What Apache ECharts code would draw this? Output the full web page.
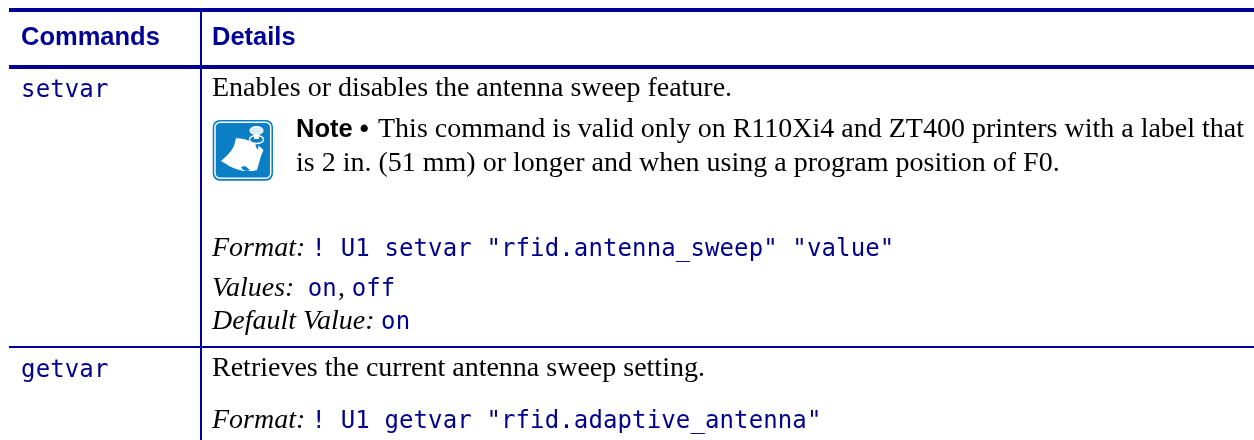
<!DOCTYPE html>
<html><head><meta charset="utf-8">
<style>html,body{margin:0;padding:0;background:#fff}#c{width:1254px;height:440px}</style>
<script src="https://cdn.jsdelivr.net/npm/echarts@6/dist/echarts.min.js"></script>
</head><body><div id="c"></div>
<script>
const headers = ["Commands", "Details"];
const commands = ["setvar", "getvar"];
const setvarIntro = "Enables or disables the antenna sweep feature.";
const noteLabel = "Note •";
const noteLine1 = "This command is valid only on R110Xi4 and ZT400 printers with a label that";
const noteLine2 = "is 2 in. (51 mm) or longer and when using a program position of F0.";
const formatLabel = "Format:";
const setvarFormat = '! U1 setvar "rfid.antenna_sweep" "value"';
const valuesLabel = "Values:";
const valuesOn = "on";
const valuesComma = ",";
const valuesOff = "off";
const defaultLabel = "Default Value:";
const defaultOn = "on";
const getvarIntro = "Retrieves the current antenna sweep setting.";
const getvarFormat = '! U1 getvar "rfid.adaptive_antenna"';

const NAVY = "#000096", MONO = "#00008c", BLUE = "#0a7fc6";
const g = [];
function rule(x1, y1, x2, y2) { g.push({type:'rect', shape:{x:x1,y:y1,width:x2-x1,height:y2-y1}, style:{fill:NAVY}}); }
function txt(s, x, base, font, size, fill, k) {
  g.push({type:'text', x:x, y:base - size * k, style:{text:s, font:font, fill:fill||'#000', textAlign:'left', verticalAlign:'middle'}});
}
const SERIF_K = 0.25, SANS_K = 0.29, MONO_K = 0.26;
function serif(s, x, base) { txt(s, x, base, "28px 'Liberation Serif'", 28, '#000', SERIF_K); }
function ital(s, x, base) { txt(s, x, base, "italic 28px 'Liberation Serif'", 28, '#000', SERIF_K); }
function mono(s, x, base, step) {
  step = step || 14.57;
  [...s].forEach((ch, i) => { if (ch !== ' ') g.push({type:'text', x:x + (i + .5) * step, y:base - 24 * MONO_K, style:{text:ch, font:"24px 'DejaVu Sans Mono'", fill:MONO, textAlign:'center', verticalAlign:'middle'}}); });
}
rule(9, 8, 1254, 12);
rule(9, 65, 1254, 69);
rule(9, 346, 1254, 348);
rule(200, 12, 202, 440);
txt(headers[0], 21, 45, "bold 25.5px 'Liberation Sans'", 25.5, NAVY, SANS_K);
txt(headers[1], 212, 45, "bold 25.5px 'Liberation Sans'", 25.5, NAVY, SANS_K);
mono(commands[0], 21, 97);
mono(commands[1], 21, 377);
serif(setvarIntro, 212, 96);
txt(noteLabel, 296, 137, "bold 25.5px 'Liberation Sans'", 25.5, '#000', SANS_K);
serif(noteLine1, 378, 137);
serif(noteLine2, 296, 171);
ital(formatLabel, 212, 256);
mono(setvarFormat, 311.5, 256);
ital(valuesLabel, 212, 296);
mono(valuesOn, 307.7, 296);
serif(valuesComma, 338, 296);
mono(valuesOff, 351.6, 296);
ital(defaultLabel, 212, 329);
mono(defaultOn, 381, 329);
serif(getvarIntro, 212, 376);
ital(formatLabel, 212, 428);
mono(getvarFormat, 311.5, 428);
// note icon
g.push({type:'rect', shape:{x:212.7,y:120,width:60.3,height:60.7,r:7}, style:{fill:BLUE}});
g.push({type:'rect', shape:{x:215,y:122.3,width:55.7,height:56,r:5}, style:{fill:'none',stroke:'#fff',lineWidth:1.5}});
g.push({type:'polygon', shape:{points:[[236,138],[244,139],[252,142],[258,145],[263.5,150],[261,156],[259,163],[257,170],[253,171],[249,171],[243,171],[236,169],[230,166.5],[221,161],[227,155.5],[231,151],[234,146]]}, style:{fill:'#fff'}});
g.push({type:'polygon', shape:{points:[[241,167],[245,166],[250,170],[247,171],[243,170]]}, style:{fill:BLUE}});
g.push({type:'polygon', shape:{points:[[255,142],[259,142],[258,150],[256,147]]}, style:{fill:BLUE}});
g.push({type:'ellipse', shape:{cx:256.5,cy:139.5,rx:7,ry:4}, style:{fill:BLUE,stroke:'#fff',lineWidth:1.4}});
g.push({type:'rect', shape:{x:254,y:131,width:5,height:8}, style:{fill:'#fff'}});
g.push({type:'ellipse', shape:{cx:256.5,cy:130.5,rx:6.5,ry:3.8}, style:{fill:'#d5ebf8',stroke:'#fff',lineWidth:1.2}});
const chart = echarts.init(document.getElementById('c'), null, {renderer:'canvas'});
chart.setOption({animation:false, backgroundColor:'#fff', graphic:{elements:g}});
</script></body></html>
